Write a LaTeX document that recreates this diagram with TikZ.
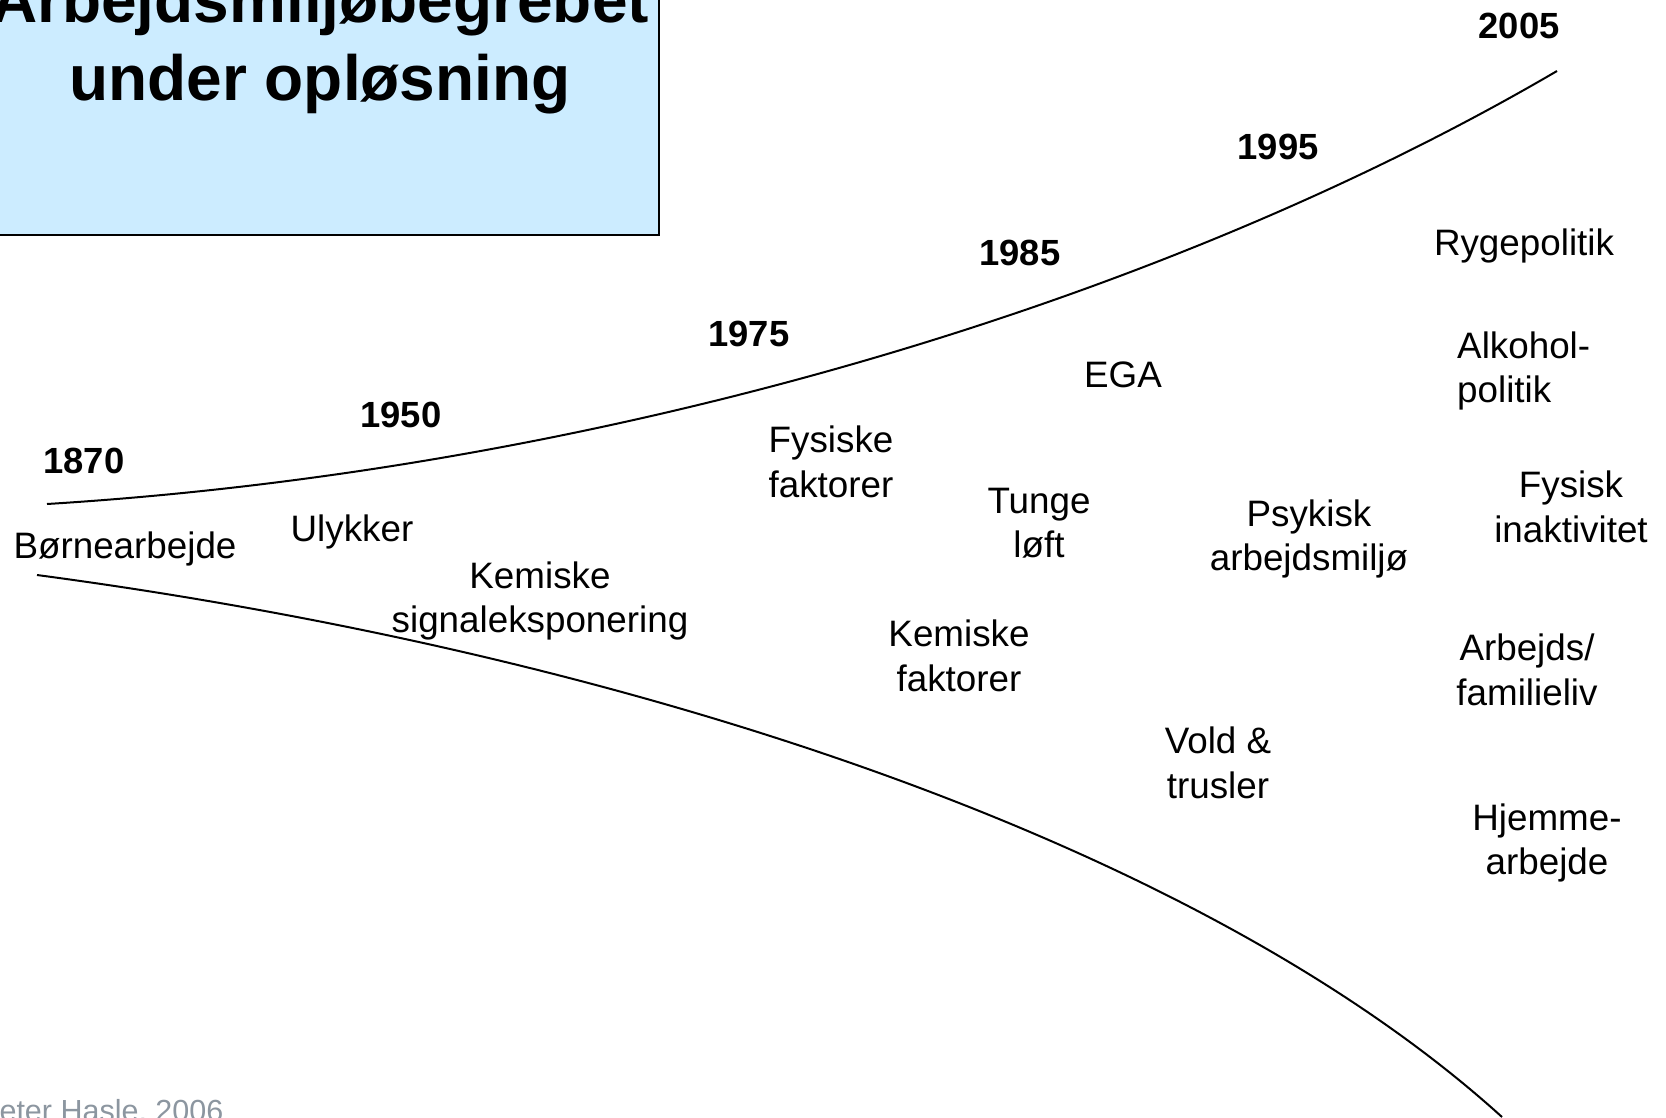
\documentclass[tikz,border=0pt]{standalone}
\usepackage{fontspec}
\setmainfont{Liberation Sans}
\definecolor{boxblue}{RGB}{204,236,255}
\definecolor{footgray}{RGB}{140,150,160}
\begin{document}
\begin{tikzpicture}[x=1pt,y=-1pt,
  year/.style={inner sep=0pt,font=\fontsize{36.4}{44.6}\selectfont\bfseries},
  lbl/.style={inner sep=0pt,align=center,font=\fontsize{36.8}{44.6}\selectfont},
  curve/.style={line width=2pt}]
  \clip (0,0) rectangle (1666,1117);
  \fill[white] (0,0) rectangle (1666,1117);

  % title box
  \draw[line width=2pt,fill=boxblue] (-10,-10) rectangle (659,235);
  \node[inner sep=0pt,align=center,font=\fontsize{64}{78}\selectfont\bfseries]
    (title) at (320,45) {Arbejdsmiljøbegrebet\\under opløsning};

  % the two boundary curves
  \coordinate (u0) at (47,504);
  \coordinate (u1) at (1557,71);
  \coordinate (l0) at (37,575);
  \coordinate (l1) at (1502,1117);
  \draw[curve] (u0) .. controls (597,470) and (1157,305) .. (u1);
  \draw[curve] (l0) .. controls (637,655) and (1202,845) .. (l1);

  % years
  \node[year] (y1870) at (84,461) {1870};
  \node[year] (y1950) at (401,415) {1950};
  \node[year] (y1975) at (749,334) {1975};
  \node[year] (y1985) at (1020,253) {1985};
  \node[year] (y1995) at (1278,147) {1995};
  \node[year] (y2005) at (1519,26) {2005};

  % topics
  \node[lbl] (born) at (125,549) {Børnearbejde};
  \node[lbl] (ulyk) at (352,532) {Ulykker};
  \node[lbl] (kemsig) at (540,601) {Kemiske\\signaleksponering};
  \node[lbl] (fysfak) at (831,462) {Fysiske\\faktorer};
  \node[lbl] (tunge) at (1039,523) {Tunge\\løft};
  \node[lbl] (ega) at (1123,375) {EGA};
  \node[lbl] (kemfak) at (959,656) {Kemiske\\faktorer};
  \node[lbl] (psyk) at (1309,539) {Psykisk\\arbejdsmiljø};
  \node[lbl] (vold) at (1218,763) {Vold \&\\trusler};
  \node[lbl] (ryge) at (1524,246) {Rygepolitik};
  \node[lbl,align=left,anchor=west] (alko) at (1457,371) {Alkohol-\\politik};
  \node[lbl] (inakt) at (1571,507) {Fysisk\\inaktivitet};
  \node[lbl] (famil) at (1527,670) {Arbejds/\\familieliv};
  \node[lbl] (hjem) at (1547,843) {Hjemme-\\arbejde};

  % author line
  \node[inner sep=0pt,anchor=base west,text=footgray,font=\fontsize{30.5}{36}\selectfont]
    (author) at (-21,1121) {Peter Hasle, 2006};
\end{tikzpicture}
\end{document}
